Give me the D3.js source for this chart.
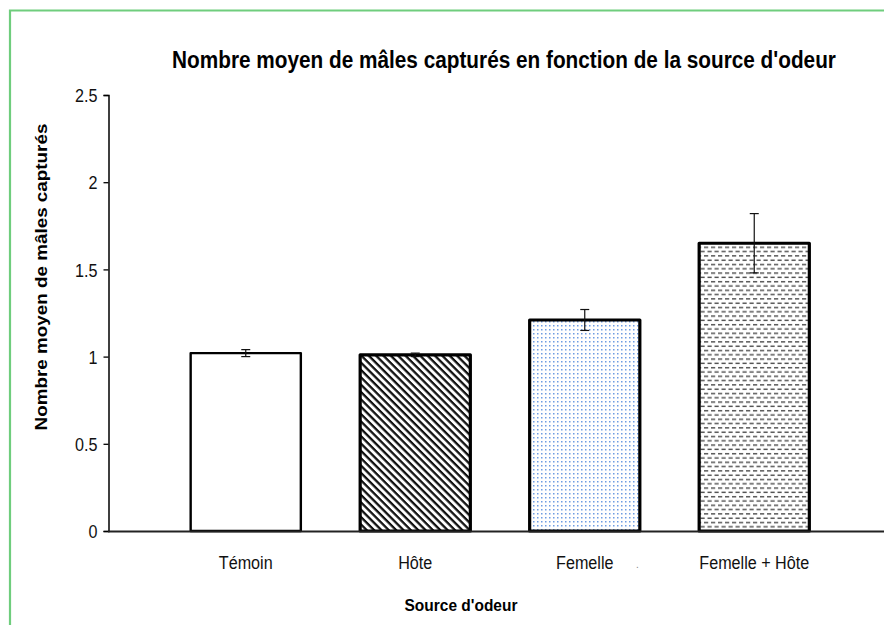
<!DOCTYPE html>
<html>
<head>
<meta charset="utf-8">
<script src="https://cdn.jsdelivr.net/npm/d3@7"></script>
<style>
  html, body { margin: 0; padding: 0; background: #fff; }
  svg { display: block; }
  text { font-family: "Liberation Sans", Arial, sans-serif; }
</style>
</head>
<body>
<svg id="chart" width="884" height="625"></svg>
<script>
// ---- data ----
const categories = ["Témoin", "Hôte", "Femelle", "Femelle + Hôte"];
const means = [1.02, 1.01, 1.21, 1.65];
const errors = [0.02, 0.01, 0.06, 0.17];
const yTicks = [0, 0.5, 1, 1.5, 2, 2.5];
const fills = ["plain", "hatch", "dots", "dashes"];

const svg = d3.select("#chart");
const W = 884, H = 625;
const FONT = '"Liberation Sans", Arial, sans-serif';
svg.append("rect").attr("width", W).attr("height", H).attr("fill", "#fff");

// green frame
svg.append("path")
  .attr("d", `M10,${H} L10,10.5 L${W},10.5`)
  .attr("fill", "none").attr("stroke", "#6fcd7d").attr("stroke-width", 2.2);

// patterns
const defs = svg.append("defs");
const ph = defs.append("pattern").attr("id", "hatch").attr("patternUnits", "userSpaceOnUse")
  .attr("width", 5.2).attr("height", 5.2).attr("patternTransform", "rotate(45)");
ph.append("rect").attr("width", 5.2).attr("height", 5.2).attr("fill", "#fff");
ph.append("rect").attr("x", 0).attr("y", 0).attr("width", 5.2).attr("height", 2.3).attr("fill", "#111");

const pd = defs.append("pattern").attr("id", "dots").attr("patternUnits", "userSpaceOnUse")
  .attr("width", 4).attr("height", 4);
pd.append("rect").attr("width", 4).attr("height", 4).attr("fill", "#fff");
pd.append("rect").attr("x", 1).attr("y", 1).attr("width", 1.5).attr("height", 1.5).attr("fill", "#6e9ce2");

const pdash = defs.append("pattern").attr("id", "dashes").attr("patternUnits", "userSpaceOnUse")
  .attr("width", 7).attr("height", 8.6);
pdash.append("rect").attr("width", 7).attr("height", 8.6).attr("fill", "#fff");
pdash.append("rect").attr("x", 0.5).attr("y", 1.5).attr("width", 4.2).attr("height", 1.4).attr("fill", "#4a4a4a");
pdash.append("rect").attr("x", 4).attr("y", 5.8).attr("width", 4.2).attr("height", 1.4).attr("fill", "#4a4a4a");
pdash.append("rect").attr("x", -3).attr("y", 5.8).attr("width", 4.2).attr("height", 1.4).attr("fill", "#4a4a4a");

// scales
const y = d3.scaleLinear().domain([0, 2.5]).range([531, 95]);
const x = d3.scaleBand().domain(categories).range([161, 839]).paddingInner(0.35).paddingOuter(0.175);

// bars
const g = svg.append("g");
g.selectAll("rect.bar").data(categories).join("rect")
  .attr("class", "bar")
  .attr("x", d => x(d))
  .attr("y", (d, i) => y(means[i]))
  .attr("width", x.bandwidth())
  .attr("height", (d, i) => y(0) - y(means[i]))
  .attr("fill", (d, i) => fills[i] === "plain" ? "#fff" : `url(#${fills[i]})`)
  .attr("stroke", "#000")
  .attr("stroke-width", (d, i) => i === 0 ? 2.4 : 3.2)
  .attr("stroke-linejoin", "round");

// error bars
const eb = svg.append("g").attr("stroke", "#111").attr("stroke-width", 1.2);
categories.forEach((c, i) => {
  const cx = x(c) + x.bandwidth() / 2;
  const y1 = y(means[i] + errors[i]), y2 = y(means[i] - errors[i]);
  eb.append("line").attr("x1", cx).attr("x2", cx).attr("y1", y1).attr("y2", y2);
  eb.append("line").attr("x1", cx - 4.5).attr("x2", cx + 4.5).attr("y1", y1).attr("y2", y1);
  eb.append("line").attr("x1", cx - 4.5).attr("x2", cx + 4.5).attr("y1", y2).attr("y2", y2);
});

const NARROW = 0.85;

// y axis
const yAxis = d3.axisLeft(y).tickValues(yTicks).tickSize(5).tickPadding(6)
  .tickFormat(d => String(d));
const ya = svg.append("g").attr("transform", "translate(108.5,0)").call(yAxis);
ya.select(".domain").attr("stroke", "#000").attr("stroke-width", 1.5);
ya.selectAll(".tick line").attr("stroke", "#000").attr("stroke-width", 1.3);
ya.selectAll(".tick text").attr("font-size", 19).attr("fill", "#111")
  .style("font-family", FONT)
  .attr("x", 0).attr("dy", "0.35em")
  .attr("transform", `translate(-11,0) scale(${NARROW},1)`);

// x axis line
svg.append("line").attr("x1", 108).attr("x2", W).attr("y1", 531.5).attr("y2", 531.5)
  .attr("stroke", "#222").attr("stroke-width", 2);

// x labels
const xAxis = d3.axisBottom(x).tickSize(0).tickPadding(0);
const xa = svg.append("g").attr("transform", "translate(0,531)").call(xAxis);
xa.select(".domain").remove();
xa.selectAll(".tick text").attr("font-size", 19).attr("fill", "#111").attr("dy", 0).attr("y", 0)
  .style("font-family", FONT)
  .attr("transform", `translate(0,37.5) scale(${NARROW},1)`);

// small stray dot
svg.append("text").attr("x", 636).attr("y", 568).attr("font-size", 10).attr("fill", "#888").text(".");

// fitted text helper
function fitted(txt, cx, cy, size, target, rotate) {
  const t = svg.append("text").attr("text-anchor", "middle")
    .attr("font-size", size).attr("font-weight", "bold").attr("fill", "#000")
    .style("font-family", FONT).text(txt);
  const w = t.node().getComputedTextLength();
  const s = target / w;
  t.attr("transform", `translate(${cx},${cy})${rotate ? " rotate(-90)" : ""} scale(${s},1)`);
  return t;
}

fitted("Nombre moyen de mâles capturés en fonction de la source d'odeur", 504, 68, 24, 664, false);
fitted("Source d'odeur", 461, 611, 17, 113, false);
fitted("Nombre moyen de mâles capturés", 47, 277, 17, 307, true);
</script>
</body>
</html>
